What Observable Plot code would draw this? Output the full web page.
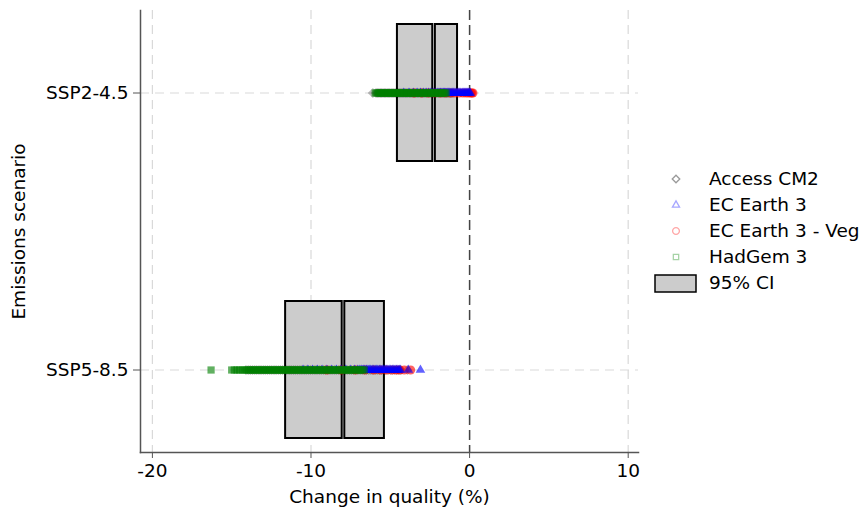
<!DOCTYPE html>
<html>
<head>
<meta charset="utf-8">
<script src="https://cdn.jsdelivr.net/npm/d3@7"></script>
<script src="https://cdn.jsdelivr.net/npm/@observablehq/plot@0.6"></script>
<style>
  html, body { margin: 0; padding: 0; background: #fff; }
  #wrap { position: relative; width: 865px; height: 510px; font-family: "DejaVu Sans", sans-serif; }
  #wrap svg { position: absolute; left: 0; top: 0; }
</style>
</head>
<body>
<div id="wrap"></div>
<script>
// ---------- data ----------
const scenarios = ["SSP2-4.5", "SSP5-8.5"];
const models = ["Access CM2", "EC Earth 3", "EC Earth 3 - Veg", "HadGem 3"];
const modelColors = ["black", "#0000ff", "#ff0000", "#008000"];
const modelSymbols = ["diamond2", "triangle2", "circle", "square2"];

// 95% CI boxes: low, mean, high per scenario
const ciLow  = [-4.55, -11.6];
const ciMean = [-2.24, -7.95];
const ciHigh = [-0.76, -5.37];

const xTicks = [-20, -10, 0, 10];
const xDomain = [-20.75, 10.65];

// simulated changes (SSP2-4.5)
const accessSSP245 = [-6.1, -5.9, -5.81, -5.72, -5.63, -5.55, -5.46, -5.37, -5.29, -5.2, -5.11, -5.03, -4.94, -4.85, -4.77, -4.68, -4.59, -4.51, -4.42, -4.33, -4.25, -4.16, -4.07, -3.99, -3.9, -3.81, -3.73, -3.64, -3.55, -3.47, -3.38, -3.29, -3.21, -3.12, -3.03, -2.95, -2.86, -2.77, -2.69, -2.6, -2.51, -2.43, -2.34, -2.25, -2.17, -2.08, -1.99, -1.91, -1.82, -1.73, -1.65, -1.56, -1.47, -1.39, -1.3, -1.21, -1.13, -1.05];
const ecSSP245 = [-4.15, -3.82, -3.55, -3.31, -3.1, -2.91, -2.74, -2.58, -2.44, -2.3, -2.17, -2.04, -1.93, -1.83, -1.74, -1.65, -1.57, -1.49, -1.41, -1.33, -1.25, -1.17, -1.09, -1.01, -0.93, -0.86, -0.78, -0.7, -0.62, -0.55, -0.47, -0.4, -0.33, -0.26, -0.19, -0.12, -0.06, 0.0, 0.05];
const vegSSP245 = [-3.5, -3.02, -2.61, -2.22, -1.84, -1.52, -1.21, -0.93, -0.66, -0.43, -0.24, -0.08, 0.06, 0.14, 0.21];
const hadSSP245 = [-5.95, -5.83, -5.73, -5.64, -5.55, -5.46, -5.38, -5.29, -5.2, -5.12, -5.03, -4.95, -4.86, -4.78, -4.69, -4.61, -4.52, -4.44, -4.35, -4.27, -4.18, -4.1, -4.01, -3.93, -3.84, -3.76, -3.67, -3.59, -3.5, -3.42, -3.33, -3.25, -3.16, -3.08, -2.99, -2.91, -2.82, -2.74, -2.65, -2.57, -2.48, -2.4, -2.31, -2.23, -2.14, -2.06, -1.97, -1.89, -1.8, -1.72, -1.64, -1.56, -1.48];

// simulated changes (SSP5-8.5)
const accessSSP585 = [-14.1, -13.96, -13.83, -13.69, -13.55, -13.42, -13.28, -13.15, -13.01, -12.88, -12.74, -12.6, -12.47, -12.33, -12.2, -12.06, -11.93, -11.79, -11.65, -11.52, -11.38, -11.25, -11.11, -10.98, -10.84, -10.7, -10.57, -10.43, -10.3, -10.16, -10.03, -9.89, -9.75, -9.62, -9.48, -9.35, -9.21, -9.08, -8.94, -8.8, -8.67, -8.53, -8.4, -8.26, -8.13, -7.99, -7.85, -7.72, -7.58, -7.45, -7.31, -7.18, -7.04, -6.9, -6.77, -6.63, -6.5, -6.36, -6.23, -6.09, -5.95, -5.82, -5.68, -5.55, -5.41, -5.28, -5.14, -5.0, -4.87, -4.73, -4.6, -4.46, -4.33, -3.92];
const ecSSP585 = [-10.5, -10.2, -9.9, -9.6, -9.3, -9.0, -8.7, -8.4, -8.1, -7.8, -7.5, -7.25, -7.05, -6.92, -6.8, -6.7, -6.6, -6.5, -6.41, -6.32, -6.23, -6.14, -6.05, -5.96, -5.87, -5.78, -5.69, -5.6, -5.51, -5.42, -5.33, -5.24, -5.15, -5.06, -4.97, -4.88, -4.79, -4.7, -4.61, -4.52, -4.44, -4.37, -3.86, -3.1];
const vegSSP585 = [-9.0, -8.1, -7.2, -6.6, -6.05, -5.62, -5.24, -4.9, -4.62, -4.41, -4.12, -3.72];
const hadSSP585 = [-16.3, -15.0, -14.83, -14.66, -14.5, -14.34, -14.2, -14.06, -13.93, -13.82, -13.7, -13.59, -13.47, -13.36, -13.24, -13.12, -13.01, -12.89, -12.78, -12.66, -12.55, -12.43, -12.31, -12.2, -12.08, -11.97, -11.85, -11.74, -11.62, -11.5, -11.39, -11.27, -11.16, -11.04, -10.93, -10.81, -10.69, -10.58, -10.46, -10.35, -10.23, -10.12, -10.0, -9.88, -9.77, -9.65, -9.54, -9.42, -9.31, -9.19, -9.07, -8.96, -8.84, -8.73, -8.61, -8.5, -8.38, -8.26, -8.15, -8.03, -7.92, -7.8, -7.69, -7.57, -7.45, -7.34, -7.22, -7.11, -6.99, -6.88, -6.76, -6.65];

// ---------- build tables ----------
const seriesBy = {
  "Access CM2": [accessSSP245, accessSSP585],
  "EC Earth 3": [ecSSP245, ecSSP585],
  "EC Earth 3 - Veg": [vegSSP245, vegSSP585],
  "HadGem 3": [hadSSP245, hadSSP585]
};
function rowsFor(model) {
  const out = [];
  seriesBy[model].forEach((vals, si) => vals.forEach(v => out.push({model, scenario: scenarios[si], value: v})));
  return out;
}
const ci = scenarios.map((s, i) => ({scenario: s, low: ciLow[i], mean: ciMean[i], high: ciHigh[i]}));

const drawOrder = ["Access CM2", "EC Earth 3 - Veg", "EC Earth 3", "HadGem 3"];
const dotMarks = drawOrder.map(m => {
  const i = models.indexOf(m);
  return Plot.dot(rowsFor(m), {
    x: "value", y: "scenario",
    symbol: () => modelSymbols[i],
    r: 4.6,
    stroke: "none",
    fill: modelColors[i], fillOpacity: i === 0 ? 0.26 : 0.62
  });
});

const FS = 18.5;
const plot = Plot.plot({
  width: 865, height: 510,
  marginLeft: 140, marginRight: 227, marginTop: 10, marginBottom: 58,
  style: {fontFamily: "'DejaVu Sans', sans-serif", fontSize: FS + "px", color: "black", background: "white"},
  symbol: {type: "identity"},
  x: {domain: xDomain, ticks: xTicks},
  y: {type: "band", domain: scenarios, paddingInner: 0.504, paddingOuter: 0.047},
  marks: [
    Plot.gridX(xTicks, {stroke: "#d9d9d9", strokeOpacity: 1, strokeWidth: 1.2, strokeDasharray: "9,6"}),
    Plot.gridY({stroke: "#d9d9d9", strokeOpacity: 1, strokeWidth: 1.2, strokeDasharray: "9,6"}),
    Plot.ruleX([0], {stroke: "#444", strokeWidth: 1.5, strokeDasharray: "10,5"}),
    Plot.barX(ci, {y: "scenario", x1: "low", x2: "mean", fill: "#cccccc", stroke: "black", strokeWidth: 2, insetRight: 1.3}),
    Plot.barX(ci, {y: "scenario", x1: "mean", x2: "high", fill: "#cccccc", stroke: "black", strokeWidth: 2, insetLeft: 1.3}),
    ...dotMarks,
    Plot.frame({anchor: "left", stroke: "#555", strokeWidth: 1.5}),
    Plot.frame({anchor: "bottom", stroke: "#555", strokeWidth: 1.5}),
    Plot.axisX({ticks: xTicks, tickSize: 6, tickPadding: 5, tickFormat: d => String(d), label: null, fontSize: FS, stroke: "#555"}),
    Plot.axisY({tickSize: 7, tickPadding: 5, label: null, fontSize: FS, stroke: "#555"}),
    Plot.text(["Change in quality (%)"], {frameAnchor: "bottom", lineAnchor: "middle", textAnchor: "middle", dy: 45, fontSize: FS, fill: "black"}),
    Plot.text(["Emissions scenario"], {frameAnchor: "left", textAnchor: "middle", lineAnchor: "middle", dx: -121, rotate: -90, fontSize: FS, fill: "black"})
  ]
});
document.getElementById("wrap").appendChild(plot);

// ---------- legend (overlay, right side) ----------
const symMap = {diamond2: d3.symbolDiamond2, triangle2: d3.symbolTriangle2, circle: d3.symbolCircle, square2: d3.symbolSquare2};
const leg = d3.select("#wrap").append("svg")
  .attr("width", 865).attr("height", 510)
  .style("pointer-events", "none")
  .style("font-family", "'DejaVu Sans', sans-serif")
  .style("font-size", FS + "px");
const rowY = [179, 205, 231, 257];
models.forEach((m, i) => {
  leg.append("path")
    .attr("d", d3.symbol(symMap[modelSymbols[i]], Math.PI * 3.4 * 3.4)())
    .attr("transform", `translate(676,${rowY[i]})`)
    .attr("fill", "none")
    .attr("stroke", modelColors[i])
    .attr("stroke-opacity", i === 0 ? 0.4 : 0.35)
    .attr("stroke-width", 1.3);
  leg.append("text").attr("x", 709).attr("y", rowY[i]).attr("dy", "0.35em").text(m);
});
leg.append("rect").attr("x", 655).attr("y", 275).attr("width", 41).attr("height", 17)
  .attr("fill", "#cccccc").attr("stroke", "black").attr("stroke-width", 1.5);
leg.append("text").attr("x", 709).attr("y", 283).attr("dy", "0.35em").text("95% CI");
</script>
</body>
</html>
